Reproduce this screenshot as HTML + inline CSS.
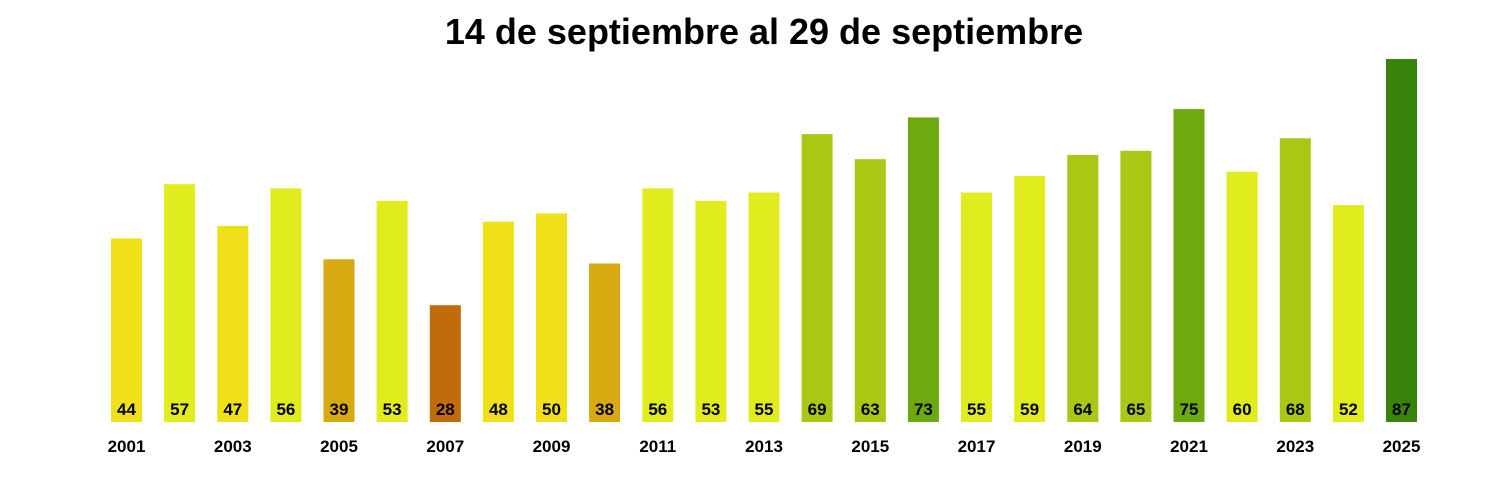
<!DOCTYPE html>
<html><head><meta charset="utf-8"><style>
body{margin:0;background:#fff}
svg{display:block;font-family:"Liberation Sans",Arial,sans-serif;font-weight:bold}
</style></head><body>
<svg width="1500" height="500" viewBox="0 0 1500 500">
<text x="764" y="44" font-size="36" text-anchor="middle" fill="#000">14 de septiembre al 29 de septiembre</text>
<g>
<rect x="111" y="238.4" width="31" height="183.6" fill="#f0e018"/>
<rect x="164.1" y="184.2" width="31" height="237.8" fill="#e0ec1c"/>
<rect x="217.3" y="225.9" width="31" height="196.1" fill="#f0e018"/>
<rect x="270.4" y="188.4" width="31" height="233.6" fill="#e0ec1c"/>
<rect x="323.5" y="259.3" width="31" height="162.7" fill="#d6aa10"/>
<rect x="376.6" y="200.9" width="31" height="221.1" fill="#e0ec1c"/>
<rect x="429.8" y="305.2" width="31" height="116.8" fill="#c06c0a"/>
<rect x="482.9" y="221.7" width="31" height="200.3" fill="#f0e018"/>
<rect x="536" y="213.4" width="31" height="208.6" fill="#f0e018"/>
<rect x="589.1" y="263.5" width="31" height="158.5" fill="#d6aa10"/>
<rect x="642.3" y="188.4" width="31" height="233.6" fill="#e0ec1c"/>
<rect x="695.4" y="200.9" width="31" height="221.1" fill="#e0ec1c"/>
<rect x="748.5" y="192.5" width="31" height="229.5" fill="#e0ec1c"/>
<rect x="801.6" y="134.1" width="31" height="287.9" fill="#a8c814"/>
<rect x="854.8" y="159.2" width="31" height="262.8" fill="#a8c814"/>
<rect x="907.9" y="117.4" width="31" height="304.6" fill="#6eaa0e"/>
<rect x="961" y="192.5" width="31" height="229.5" fill="#e0ec1c"/>
<rect x="1014.1" y="175.9" width="31" height="246.1" fill="#e0ec1c"/>
<rect x="1067.3" y="155" width="31" height="267" fill="#a8c814"/>
<rect x="1120.4" y="150.8" width="31" height="271.2" fill="#a8c814"/>
<rect x="1173.5" y="109.1" width="31" height="312.9" fill="#6eaa0e"/>
<rect x="1226.6" y="171.7" width="31" height="250.3" fill="#e0ec1c"/>
<rect x="1279.8" y="138.3" width="31" height="283.7" fill="#a8c814"/>
<rect x="1332.9" y="205.1" width="31" height="216.9" fill="#e0ec1c"/>
<rect x="1386" y="59" width="31" height="363" fill="#38840a"/>
</g>
<g font-size="17" text-anchor="middle" fill="#000">
<text x="126.5" y="415">44</text>
<text x="179.6" y="415">57</text>
<text x="232.8" y="415">47</text>
<text x="285.9" y="415">56</text>
<text x="339" y="415">39</text>
<text x="392.1" y="415">53</text>
<text x="445.3" y="415">28</text>
<text x="498.4" y="415">48</text>
<text x="551.5" y="415">50</text>
<text x="604.6" y="415">38</text>
<text x="657.8" y="415">56</text>
<text x="710.9" y="415">53</text>
<text x="764" y="415">55</text>
<text x="817.1" y="415">69</text>
<text x="870.3" y="415">63</text>
<text x="923.4" y="415">73</text>
<text x="976.5" y="415">55</text>
<text x="1029.6" y="415">59</text>
<text x="1082.8" y="415">64</text>
<text x="1135.9" y="415">65</text>
<text x="1189" y="415">75</text>
<text x="1242.1" y="415">60</text>
<text x="1295.3" y="415">68</text>
<text x="1348.4" y="415">52</text>
<text x="1401.5" y="415">87</text>
</g>
<g font-size="17" text-anchor="middle" fill="#000">
<text x="126.5" y="452">2001</text>
<text x="232.8" y="452">2003</text>
<text x="339" y="452">2005</text>
<text x="445.3" y="452">2007</text>
<text x="551.5" y="452">2009</text>
<text x="657.8" y="452">2011</text>
<text x="764" y="452">2013</text>
<text x="870.3" y="452">2015</text>
<text x="976.5" y="452">2017</text>
<text x="1082.8" y="452">2019</text>
<text x="1189" y="452">2021</text>
<text x="1295.3" y="452">2023</text>
<text x="1401.5" y="452">2025</text>
</g>
</svg>
</body></html>
